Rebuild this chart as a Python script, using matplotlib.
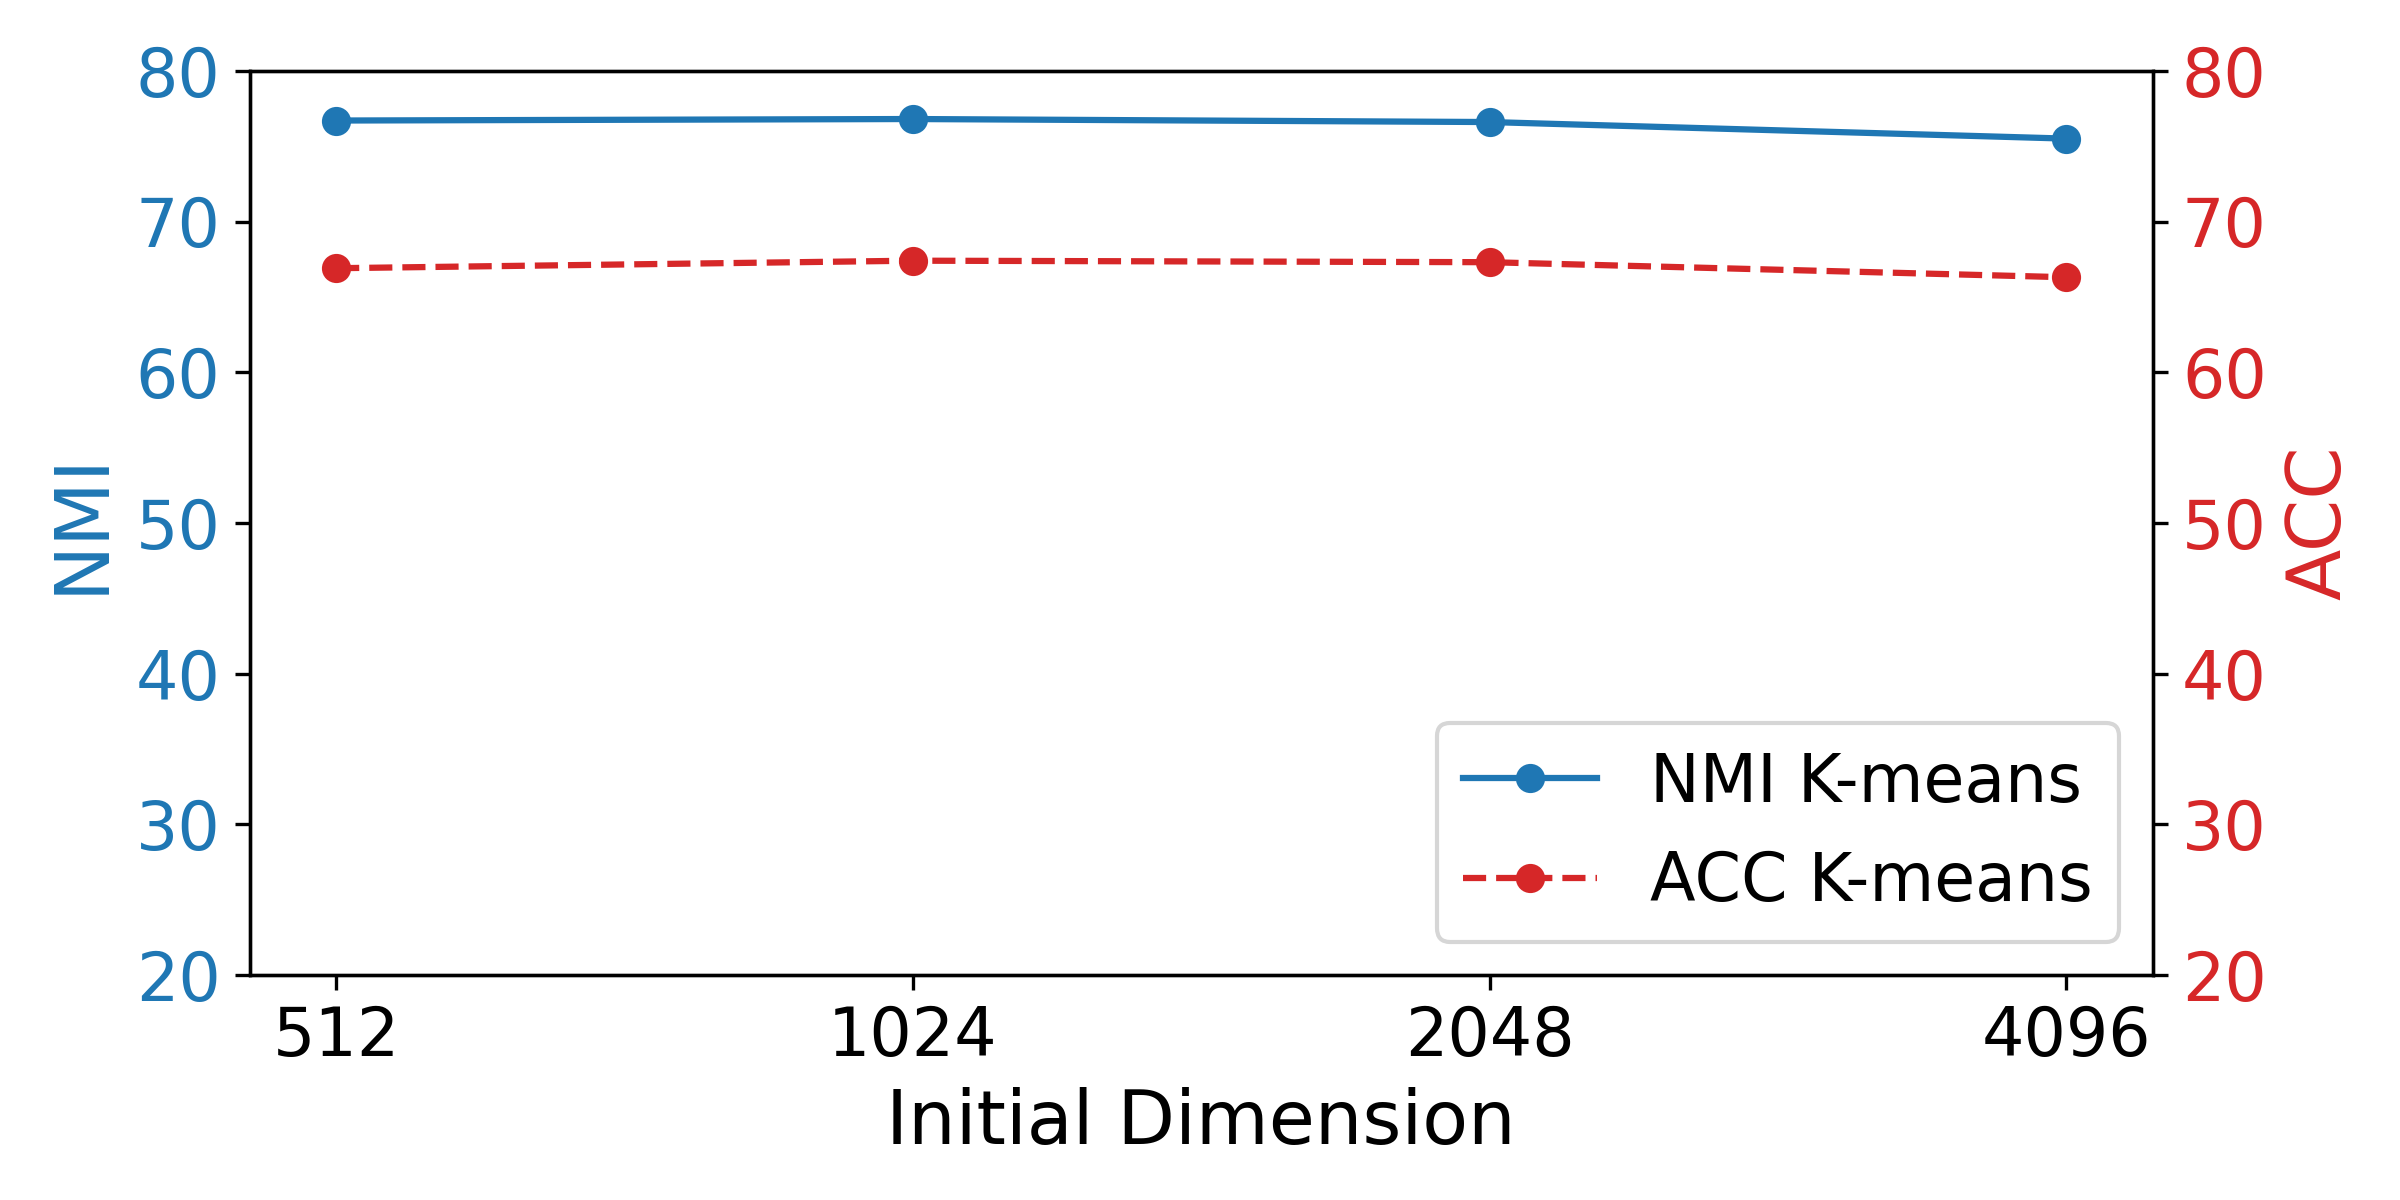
import matplotlib
matplotlib.use("Agg")
import matplotlib.pyplot as plt

dims = ["512", "1024", "2048", "4096"]
nmi = [76.7, 76.8, 76.6, 75.5]
acc = [66.9, 67.4, 67.3, 66.3]

fig, ax1 = plt.subplots(figsize=(8, 4), dpi=300)
fig.subplots_adjust(left=0.104, right=0.897, top=0.941, bottom=0.1875)
x = list(range(len(dims)))
l1, = ax1.plot(x, nmi, color="tab:blue", marker="o", linestyle="-", label="NMI K-means")
ax1.set_ylim(20, 80)
ax1.set_xticks(x)
ax1.set_xticklabels(dims, fontsize=16)
ax1.set_xlabel("Initial Dimension", fontsize=18)
ax1.set_ylabel("NMI", color="tab:blue", fontsize=18)
ax1.tick_params(axis="y", labelcolor="tab:blue", labelsize=16)

ax2 = ax1.twinx()
l2, = ax2.plot(x, acc, color="tab:red", marker="o", linestyle="--", label="ACC K-means")
ax2.set_ylim(20, 80)
ax2.set_ylabel("ACC", color="tab:red", fontsize=18)
ax2.tick_params(axis="y", labelcolor="tab:red", labelsize=16)

ax2.legend([l1, l2], [l1.get_label(), l2.get_label()], loc="lower right", fontsize=16)
fig.savefig("out.png", dpi=300)
